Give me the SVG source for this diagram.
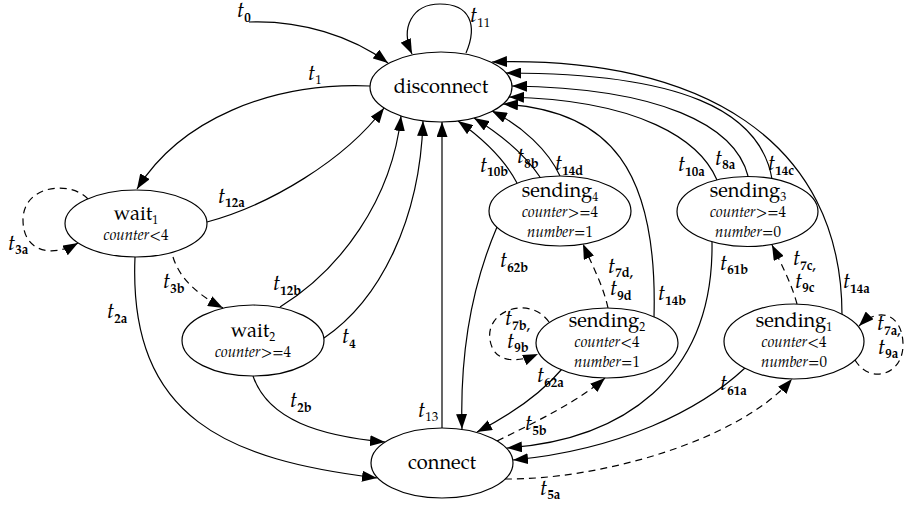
<svg xmlns="http://www.w3.org/2000/svg" width="905" height="505" viewBox="0 0 905 505">
<defs>
<marker id="ah" markerWidth="15" markerHeight="11" refX="15" refY="5.5" orient="auto" markerUnits="userSpaceOnUse"><path d="M0,0 L15,5.5 L0,11 z" fill="#000"/></marker>
<style>
.node ellipse{fill:#fff;stroke:#000;stroke-width:1.2}
.e{fill:none;stroke:#000;stroke-width:1.2;marker-end:url(#ah)}
.d{stroke-dasharray:7,5}
text{font-family:'P052','URW Palladio L','TeX Gyre Pagella','Palatino Linotype',Palatino,'Liberation Serif','DejaVu Serif','Noto Serif','Nimbus Roman','FreeSerif','Times New Roman',Times,serif}
.n{font-size:20px;text-anchor:middle;fill:#000}
.c{font-size:15px}
.i{font-style:italic}
.ns{font-size:12px}
.l{font-size:22px;font-style:italic;fill:#000}
.s{font-size:13px;font-style:normal;font-weight:bold}
.r{font-size:13px;font-style:normal}
</style>
</defs>
<g id="connectors">
<path class="e" d="M249,22 C300,20 352,36 388,63"/>
<path class="e" d="M466,53 C478,25 470,4 440,4 C412,4 400,28 412,54"/>
<path class="e" d="M370,86 C270,82 180,120 137,189"/>
<path class="e" d="M207,222 C270,205 345,160 384,108"/>
<path class="e d" d="M88,199 C70,180 23,185 23,220 C23,252 52,258 78,243"/>
<path class="e d" d="M173,257 C180,280 200,296 223,308"/>
<path class="e" d="M135,257 C128,420 230,460 377,478"/>
<path class="e" d="M280,307 C340,270 392,200 401,116"/>
<path class="e" d="M324,338 C380,300 420,220 423,121"/>
<path class="e" d="M253,376 C268,420 320,436 385,442"/>
<path class="e" d="M442,428 L442,122"/>
<path class="e" d="M517,183 C505,160 482,138 458,121"/>
<path class="e" d="M540,177 C525,155 500,134 474,118"/>
<path class="e" d="M560,176 C548,150 522,126 492,111"/>
<path class="e" d="M654,317 C658,170 610,110 503,104"/>
<path class="e" d="M842,315 C842,140 700,56 492,62"/>
<path class="e" d="M772,179 C760,110 680,73 506,73"/>
<path class="e" d="M748,176 C735,125 660,88 512,86"/>
<path class="e" d="M717,180 C700,140 640,100 509,97"/>
<path class="e" d="M497,227 C470,290 460,360 462,429"/>
<path class="e" d="M562,369 C540,395 510,415 477,432"/>
<path class="e d" d="M497,441 C540,420 580,400 605,378"/>
<path class="e" d="M712,242 C714,380 620,440 507,448"/>
<path class="e" d="M745,368 C700,410 620,450 513,460"/>
<path class="e d" d="M505,479 C600,480 740,440 792,379"/>
<path class="e d" d="M608,308 C603,285 592,265 583,244"/>
<path class="e d" d="M797,304 C792,285 782,265 772,245"/>
<path class="e d" d="M549,322 C530,295 485,310 490,340 C494,365 520,362 538,354"/>
<path class="e d" d="M855,360 C870,385 903,375 903,345 C903,315 880,305 859,326"/>
</g>
<g id="edge-labels">
<text class="l" x="237" y="17">t<tspan class="s" dy="5">0</tspan></text>
<text class="l" x="470" y="22">t<tspan class="r" dy="5">11</tspan></text>
<text class="l" x="308" y="80">t<tspan class="r" dy="4">1</tspan></text>
<text class="l" x="218" y="203">t<tspan class="s" dy="4">12a</tspan></text>
<text class="l" x="8" y="250">t<tspan class="s" dy="4">3a</tspan></text>
<text class="l" x="163" y="288">t<tspan class="s" dy="5">3b</tspan></text>
<text class="l" x="107" y="318">t<tspan class="s" dy="5">2a</tspan></text>
<text class="l" x="273" y="290">t<tspan class="s" dy="5">12b</tspan></text>
<text class="l" x="342" y="343">t<tspan class="s" dy="5">4</tspan></text>
<text class="l" x="290" y="407">t<tspan class="s" dy="5">2b</tspan></text>
<text class="l" x="418" y="417">t<tspan class="r" dy="4">13</tspan></text>
<text class="l" x="480" y="172">t<tspan class="s" dy="4">10b</tspan></text>
<text class="l" x="517" y="163">t<tspan class="s" dy="5">8b</tspan></text>
<text class="l" x="555" y="170">t<tspan class="s" dy="5">14d</tspan></text>
<text class="l" x="678" y="171">t<tspan class="s" dy="5">10a</tspan></text>
<text class="l" x="715" y="165">t<tspan class="s" dy="4">8a</tspan></text>
<text class="l" x="768" y="170">t<tspan class="s" dy="5">14c</tspan></text>
<text class="l" x="500" y="267">t<tspan class="s" dy="5">62b</tspan></text>
<text class="l" x="658" y="300">t<tspan class="s" dy="5">14b</tspan></text>
<text class="l" x="843" y="288">t<tspan class="s" dy="5">14a</tspan></text>
<text class="l" x="720" y="270">t<tspan class="s" dy="4">61b</tspan></text>
<text class="l" x="608" y="273">t<tspan class="s" dy="4">7d,</tspan></text>
<text class="l" x="610" y="295">t<tspan class="s" dy="5">9d</tspan></text>
<text class="l" x="793" y="265">t<tspan class="s" dy="5">7c,</tspan></text>
<text class="l" x="795" y="288">t<tspan class="s" dy="4">9c</tspan></text>
<text class="l" x="505" y="325">t<tspan class="s" dy="5">7b,</tspan></text>
<text class="l" x="507" y="348">t<tspan class="s" dy="4">9b</tspan></text>
<text class="l" x="877" y="330">t<tspan class="s" dy="5">7a,</tspan></text>
<text class="l" x="878" y="354">t<tspan class="s" dy="4">9a</tspan></text>
<text class="l" x="537" y="382">t<tspan class="s" dy="5">62a</tspan></text>
<text class="l" x="525" y="430">t<tspan class="s" dy="5">5b</tspan></text>
<text class="l" x="720" y="390">t<tspan class="s" dy="5">61a</tspan></text>
<text class="l" x="540" y="495">t<tspan class="s" dy="4">5a</tspan></text>
</g>
<g id="disconnect" class="node">
<ellipse cx="441" cy="87" rx="71" ry="35"/>
<text class="n" x="441" y="93">disconnect</text>
</g>
<g id="wait1" class="node">
<ellipse cx="136" cy="223.5" rx="71" ry="33.5"/>
<text class="n" x="136" y="220">wait<tspan class="ns" dy="4">1</tspan></text>
<text class="n c" x="136" y="240"><tspan class="i">counter</tspan>&lt;4</text>
</g>
<g id="wait2" class="node">
<ellipse cx="253" cy="340.5" rx="71" ry="35.5"/>
<text class="n" x="253" y="337">wait<tspan class="ns" dy="4">2</tspan></text>
<text class="n c" x="253" y="357"><tspan class="i">counter</tspan>&gt;=4</text>
</g>
<g id="connect" class="node">
<ellipse cx="442" cy="463" rx="71" ry="35"/>
<text class="n" x="442" y="469">connect</text>
</g>
<g id="sending4" class="node">
<ellipse cx="560" cy="211" rx="71" ry="35"/>
<text class="n" x="560" y="197">sending<tspan class="ns" dy="4">4</tspan></text>
<text class="n c" x="560" y="217"><tspan class="i">counter</tspan>&gt;=4</text>
<text class="n c" x="560" y="237"><tspan class="i">number</tspan>=1</text>
</g>
<g id="sending3" class="node">
<ellipse cx="747.5" cy="211.5" rx="70.5" ry="35"/>
<text class="n" x="748" y="197">sending<tspan class="ns" dy="4">3</tspan></text>
<text class="n c" x="748" y="217"><tspan class="i">counter</tspan>&gt;=4</text>
<text class="n c" x="748" y="237"><tspan class="i">number</tspan>=0</text>
</g>
<g id="sending2" class="node">
<ellipse cx="607" cy="343" rx="71" ry="35"/>
<text class="n" x="607" y="327">sending<tspan class="ns" dy="4">2</tspan></text>
<text class="n c" x="607" y="347"><tspan class="i">counter</tspan>&lt;4</text>
<text class="n c" x="607" y="367"><tspan class="i">number</tspan>=1</text>
</g>
<g id="sending1" class="node">
<ellipse cx="794" cy="341.5" rx="70" ry="37.5"/>
<text class="n" x="794" y="327">sending<tspan class="ns" dy="4">1</tspan></text>
<text class="n c" x="794" y="347"><tspan class="i">counter</tspan>&lt;4</text>
<text class="n c" x="794" y="367"><tspan class="i">number</tspan>=0</text>
</g>
</svg>
